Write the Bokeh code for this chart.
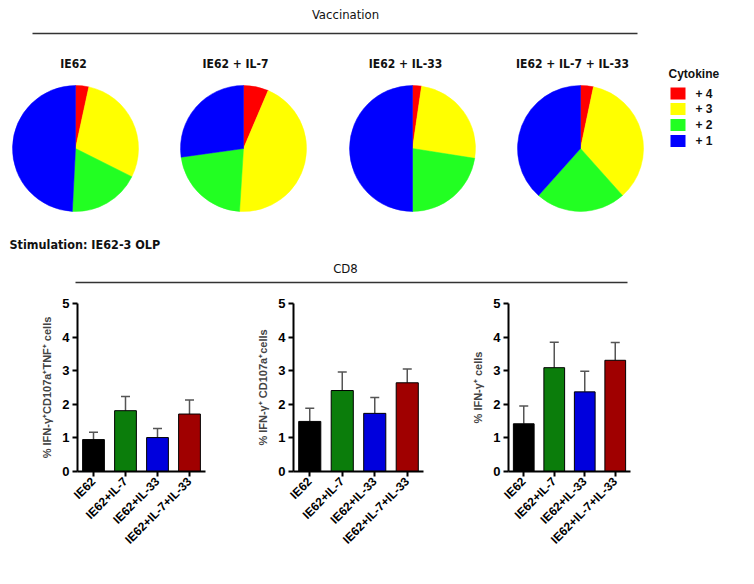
import math
from bokeh.plotting import figure
from bokeh.layouts import column, row
from bokeh.models import ColumnDataSource, Whisker, TeeHead, Range1d, FactorRange, FixedTicker
from bokeh.embed import file_html
from bokeh.resources import INLINE
from bokeh.core.properties import value

# ---------------- data ----------------
vaccination_groups = ["IE62", "IE62 + IL-7", "IE62 + IL-33", "IE62 + IL-7 + IL-33"]
cytokine_labels = ["+ 4", "+ 3", "+ 2", "+ 1"]
cytokine_colors = ["#ff0000", "#ffff00", "#22ff22", "#0000ff"]
pie_plus4 = [3.4, 6.4, 2.3, 3.3]
pie_plus3 = [29.0, 44.6, 25.2, 35.1]
pie_plus2 = [18.4, 21.8, 22.5, 23.2]
pie_plus1 = [49.2, 27.2, 50.0, 38.4]

bar_categories = ["IE62", "IE62+IL-7", "IE62+IL-33", "IE62+IL-7+IL-33"]
bar_colors = ["#000000", "#0b7d0b", "#0000dd", "#a00000"]
triple_mean = [0.95, 1.81, 1.01, 1.71]
triple_sem = [0.22, 0.42, 0.27, 0.42]
double_mean = [1.49, 2.41, 1.73, 2.64]
double_sem = [0.39, 0.55, 0.47, 0.41]
single_mean = [1.42, 3.09, 2.37, 3.31]
single_sem = [0.53, 0.76, 0.61, 0.53]

NARROW = value("'DejaVu Sans Condensed', 'Liberation Sans', sans-serif")
ARIAL = value("Liberation Sans")

# ---------------- top panel (pies) ----------------
W, H = 738, 290
top = figure(width=W, height=H, x_range=Range1d(-8, W - 8), y_range=Range1d(-2, 288),
             output_backend="svg", toolbar_location=None, min_border=0)
top.axis.visible = False
top.grid.visible = False
top.outline_line_color = None

top.text(x=[337], y=[274], text=["Vaccination"], text_font=NARROW, text_font_size="13px",
         text_align="center", text_baseline="middle", text_color="#111111")
top.line(x=[24, 629], y=[255, 255], line_color="#333333", line_width=1.5)

pie_cx = [67, 235, 404, 572]
label_cx = [65, 227, 397, 564]
pie_cy = 140
radius = 63
top.text(x=label_cx, y=[225] * 4, text=vaccination_groups, text_font=NARROW,
         text_font_size="12px", text_font_style="bold", text_align="center",
         text_baseline="middle", text_color="#111111")

for gi in range(len(vaccination_groups)):
    fracs = [pie_plus4[gi], pie_plus3[gi], pie_plus2[gi], pie_plus1[gi]]
    total = sum(fracs)
    cum = 0.0
    starts, ends = [], []
    for f in fracs:
        a0 = cum / total
        cum += f
        a1 = cum / total
        starts.append(math.pi / 2 - a1 * 2 * math.pi)
        ends.append(math.pi / 2 - a0 * 2 * math.pi)
    src = ColumnDataSource(dict(x=[pie_cx[gi]] * 4, y=[pie_cy] * 4, s=starts, e=ends,
                                c=cytokine_colors))
    top.wedge(x="x", y="y", radius=radius, start_angle="s", end_angle="e",
              direction="anticlock", fill_color="c", line_color="c", line_width=0.5,
              source=src)

# legend
top.text(x=[660], y=[215], text=["Cytokine"], text_font=ARIAL, text_font_size="12px",
         text_font_style="bold", text_baseline="middle", text_color="#111111")
leg_y = [195, 179.5, 163.5, 147.5]
top.rect(x=[669.5] * 4, y=leg_y, width=15, height=12, fill_color=cytokine_colors,
         line_color=None)
top.text(x=[687] * 4, y=leg_y, text=cytokine_labels, text_font=ARIAL, text_font_size="12px",
         text_font_style="bold", text_baseline="middle", text_color="#111111")

top.text(x=[1], y=[44], text=["Stimulation: IE62-3 OLP"], text_font=NARROW,
         text_font_size="12.5px", text_font_style="bold", text_baseline="middle",
         text_color="#111111")
top.text(x=[337], y=[20], text=["CD8"], text_font=NARROW, text_font_size="13px",
         text_align="center", text_baseline="middle", text_color="#111111")
top.line(x=[67, 619], y=[6, 6], line_color="#333333", line_width=1.5)


# ---------------- bar panels ----------------
def bar_fig(means, sems, ylabel, frame_w, left, right):
    p = figure(x_range=FactorRange(*bar_categories), y_range=Range1d(0, 5),
               frame_width=frame_w, frame_height=168, min_border_left=left,
               min_border_right=right, min_border_top=13, min_border_bottom=5,
               output_backend="svg", toolbar_location=None)
    p.grid.visible = False
    p.outline_line_color = None
    src = ColumnDataSource(dict(x=bar_categories, top=means,
                                upper=[m + s for m, s in zip(means, sems)],
                                c=bar_colors))
    p.vbar(x="x", top="top", width=0.68, fill_color="c", line_color="#000000",
           line_width=1, source=src)
    p.add_layout(Whisker(base="x", lower="top", upper="upper", source=src,
                         line_color="#555555", line_width=1.5, lower_head=None,
                         upper_head=TeeHead(size=9, line_color="#555555", line_width=1.5)))
    for ax in (p.xaxis[0], p.yaxis[0]):
        ax.axis_line_width = 2
        ax.axis_line_color = "#000000"
        ax.major_tick_line_width = 2
        ax.major_tick_out = 5
        ax.major_tick_in = 0
        ax.minor_tick_line_color = None
        ax.major_label_text_font = "Liberation Sans"
        ax.major_label_text_font_style = "bold"
        ax.major_label_text_color = "#000000"
    p.yaxis.ticker = FixedTicker(ticks=[0, 1, 2, 3, 4, 5])
    p.yaxis.major_label_text_font_size = "13px"
    p.yaxis.major_label_standoff = 3
    p.xaxis.major_label_text_font_size = "12px"
    p.xaxis.major_label_orientation = math.pi / 4
    p.xaxis.major_label_standoff = 3
    p.yaxis.axis_label = ylabel
    p.yaxis.axis_label_text_font = "Liberation Sans"
    p.yaxis.axis_label_text_font_style = "bold"
    p.yaxis.axis_label_text_font_size = "11px"
    p.yaxis.axis_label_standoff = 6
    return p


b1 = bar_fig(triple_mean, triple_sem, "% IFN-γ⁺CD107a⁺TNF⁺ cells", 128, 77, 20)
b2 = bar_fig(double_mean, double_sem, "% IFN-γ⁺ CD107a⁺cells", 130, 68, 17)
b3 = bar_fig(single_mean, single_sem, "% IFN-γ⁺ cells", 122, 68, 30)

layout = column(top, row(b1, b2, b3))
open("out.html", "w").write(file_html(layout, INLINE))
